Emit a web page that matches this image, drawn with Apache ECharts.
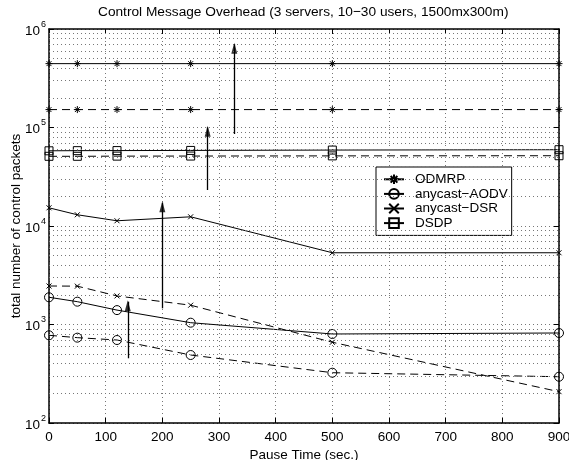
<!DOCTYPE html>
<html>
<head>
<meta charset="utf-8">
<title>Control Message Overhead</title>
<script src="https://cdn.jsdelivr.net/npm/echarts@6/dist/echarts.min.js"></script>
<style>
    html, body { margin: 0; padding: 0; background: #fff; }
    #charts { width: 569px; height: 460px; }
</style>
</head>
<body>
<div id="charts"></div>
<script>
// pause time (sec.)
var pauseTimes = [0, 50, 120, 250, 500, 900];

// solid = first scenario, dashed = second scenario
var odmrpSolid = [445000, 445000, 445000, 445000, 445000, 445000];
var odmrpDashed = [152000, 152000, 152000, 152000, 152000, 152000];
var dsdpSolid = [58000, 58200, 58300, 58500, 59000, 59500];
var dsdpDashed = [51000, 51000, 51200, 51300, 51500, 51700];
var dsrSolid = [15300, 13000, 11300, 12400, 5350, 5350];
var dsrDashed = [2460, 2450, 1950, 1570, 660, 208];
var aodvSolid = [1890, 1705, 1400, 1043, 801, 820];
var aodvDashed = [777, 735, 696, 490, 324, 295];

// arrows drawn on the plot
var arrowX = [139, 200, 280, 327];
var arrowFrom = [454, 1460, 23200, 85900];
var arrowTo = [1705, 17250, 100500, 700000];

var legendNames = ['ODMRP', 'anycast\u2212AODV', 'anycast\u2212DSR', 'DSDP'];
var xTicks = [0, 100, 200, 300, 400, 500, 600, 700, 800, 900];

var FONT = 'Liberation Sans';
var starSym = 'path://M5,0L5,10M0,5L10,5M1.5,1.5L8.5,8.5M1.5,8.5L8.5,1.5';
var crossSym = 'path://M0,0L10,10M0,10L10,0';

function pairs(xs, ys) {
    var out = [];
    for (var i = 0; i < xs.length; i++) {
        out.push([xs[i], ys[i]]);
    }
    return out;
}

// minor grid values 2..9 in each decade
var minorGrid = [];
for (var k = 2; k < 6; k++) {
    for (var m = 2; m < 10; m++) {
        minorGrid.push({yAxis: m * Math.pow(10, k)});
    }
}

var arrowLines = [];
for (var i = 0; i < arrowX.length; i++) {
    arrowLines.push([{coord: [arrowX[i], arrowFrom[i]]}, {coord: [arrowX[i], arrowTo[i]]}]);
}

function makeSeries(name, ys, symbol, size, dashed) {
    return {
        name: name,
        type: 'line',
        data: pairs(pauseTimes, ys),
        symbol: symbol,
        symbolSize: size,
        showAllSymbol: true,
        animation: false,
        z: 3,
        lineStyle: {color: '#000', width: 1, type: dashed ? [8, 5] : 'solid'},
        itemStyle: {color: 'none', borderColor: '#000', borderWidth: 1},
        emphasis: {disabled: true}
    };
}

function staticChart() {
    var myChart = echarts.init(document.getElementById('charts'));

    var series = [
        makeSeries(legendNames[0], odmrpSolid, starSym, 7, false),
        makeSeries(legendNames[1], aodvSolid, 'circle', 9, false),
        makeSeries(legendNames[2], dsrSolid, crossSym, 5, false),
        makeSeries(legendNames[3], dsdpSolid, 'rect', 8, false),
        makeSeries(legendNames[0], odmrpDashed, starSym, 7, true),
        makeSeries(legendNames[1], aodvDashed, 'circle', 9, true),
        makeSeries(legendNames[2], dsrDashed, crossSym, 5, true),
        makeSeries(legendNames[3], dsdpDashed, 'rect', 8, true)
    ];

    // dotted minor grid of the log axis
    series[0].markLine = {
        silent: true,
        animation: false,
        symbol: ['none', 'none'],
        label: {show: false},
        lineStyle: {color: '#777', width: 1, type: [1, 3]},
        emphasis: {disabled: true},
        data: minorGrid
    };
    // arrow shafts
    series[1].markLine = {
        silent: true,
        animation: false,
        symbol: ['none', 'none'],
        label: {show: false},
        lineStyle: {color: '#000', width: 1.3, type: 'solid'},
        emphasis: {disabled: true},
        data: arrowLines
    };
    // arrow heads
    series.push({
        name: 'arrowHead',
        type: 'scatter',
        data: pairs(arrowX, arrowTo),
        symbol: 'triangle',
        symbolSize: [6, 11],
        symbolOffset: [0, 4],
        silent: true,
        animation: false,
        z: 4,
        itemStyle: {color: '#000'}
    });

    var option = {
        animation: false,
        backgroundColor: '#fff',
        textStyle: {fontFamily: FONT, color: '#000'},
        title: {
            text: 'Control Message Overhead (3 servers, 10\u221230 users, 1500mx300m)',
            left: 98,
            top: 5,
            padding: 0,
            textStyle: {fontFamily: FONT, fontSize: 13.7, fontWeight: 'normal', color: '#000'}
        },
        legend: {
            data: legendNames,
            orient: 'vertical',
            left: 376,
            top: 167,
            width: 133,
            padding: [5, 4, 5, 7],
            itemGap: 0,
            itemWidth: 20,
            itemHeight: 12,
            backgroundColor: '#fff',
            borderColor: '#000',
            borderWidth: 1,
            selectedMode: false,
            formatter: function (name) { return '{t|' + name + '}'; },
            textStyle: {
                fontFamily: FONT, fontSize: 13.5, color: '#000', lineHeight: 13,
                rich: {t: {fontFamily: FONT, fontSize: 13.5, color: '#000', lineHeight: 13, padding: [0, 0, 0, 6]}}
            }
        },
        grid: {left: 49, right: 10, top: 29, bottom: 37, containLabel: false, outerBoundsMode: 'none'},
        xAxis: [{
            type: 'value',
            min: 0,
            max: 900,
            interval: 100,
            name: 'Pause Time (sec.)',
            nameLocation: 'middle',
            nameGap: 25,
            nameMoveOverlap: false,
            nameTextStyle: {fontFamily: FONT, fontSize: 13.5, color: '#000'},
            axisLine: {show: true, onZero: false, lineStyle: {color: '#000', width: 1.5}},
            axisTick: {show: true, inside: true, length: 5, lineStyle: {color: '#000'}},
            axisLabel: {fontFamily: FONT, fontSize: 13.5, color: '#000', margin: 7,
                formatter: function (v) { return xTicks.indexOf(v) >= 0 ? String(v) : ''; }},
            splitLine: {show: true, lineStyle: {color: '#777', width: 1, type: [1, 3]}}
        }, {
            type: 'value',
            position: 'top',
            min: 0,
            max: 900,
            interval: 100,
            axisLine: {show: true, onZero: false, lineStyle: {color: '#000', width: 1.5}},
            axisTick: {show: true, inside: true, length: 5, lineStyle: {color: '#000'}},
            axisLabel: {show: false},
            splitLine: {show: false}
        }],
        yAxis: [{
            type: 'log',
            logBase: 10,
            min: 100,
            max: 1000000,
            name: 'total number of control packets',
            nameLocation: 'middle',
            nameGap: 26,
            nameMoveOverlap: false,
            nameTextStyle: {fontFamily: FONT, fontSize: 13.5, color: '#000'},
            axisLine: {show: true, onZero: false, lineStyle: {color: '#000', width: 1.5}},
            axisTick: {show: true, inside: true, length: 5, lineStyle: {color: '#000'}},
            axisLabel: {
                margin: 3,
                formatter: function (v) {
                    return '{b|10}{e|' + Math.round(Math.log10(v)) + '}';
                },
                rich: {
                    b: {fontFamily: FONT, fontSize: 13.5, color: '#000', lineHeight: 18, verticalAlign: 'bottom'},
                    e: {fontFamily: FONT, fontSize: 9, color: '#000', lineHeight: 18, verticalAlign: 'top', padding: [0, 0, 0, 1]}
                }
            },
            splitLine: {show: true, lineStyle: {color: '#777', width: 1, type: [1, 3]}}
        }, {
            type: 'log',
            logBase: 10,
            min: 100,
            max: 1000000,
            position: 'right',
            axisLine: {show: true, onZero: false, lineStyle: {color: '#000', width: 1.5}},
            axisTick: {show: true, inside: true, length: 5, lineStyle: {color: '#000'}},
            axisLabel: {show: false},
            splitLine: {show: false}
        }],
        series: series
    };

    myChart.setOption(option);
    window.addEventListener('resize', function () { myChart.resize(); });
}

staticChart();
</script>
</body>
</html>
